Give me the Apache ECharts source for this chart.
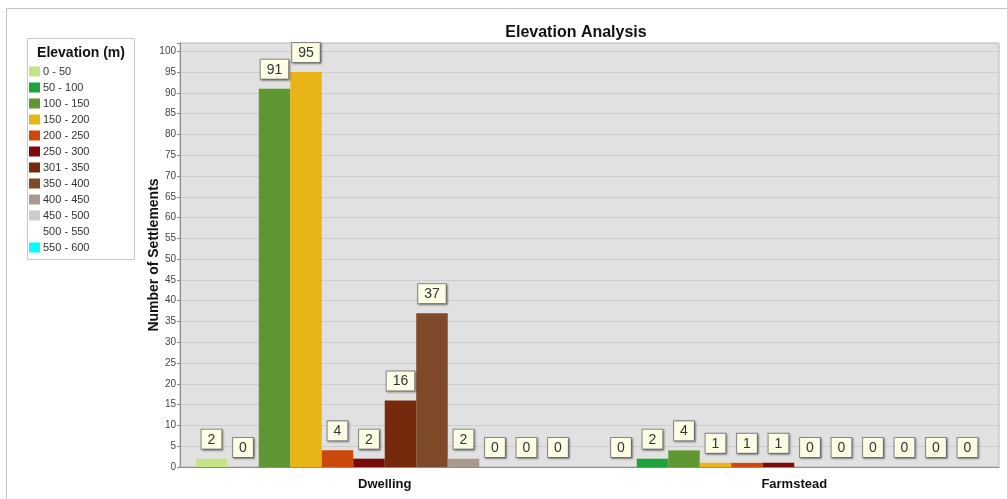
<!DOCTYPE html>
<html>
<head>
<meta charset="utf-8">
<script src="https://cdn.jsdelivr.net/npm/echarts@6/dist/echarts.min.js"></script>
<style>html,body{margin:0;padding:0;background:#fff;}#c{width:1007px;height:499px;}</style>
</head>
<body>
<div id="c"></div>
<script>
const categories = ['Dwelling', 'Farmstead'];
const elevationBands = ['0 - 50','50 - 100','100 - 150','150 - 200','200 - 250','250 - 300','301 - 350','350 - 400','400 - 450','450 - 500','500 - 550','550 - 600'];
const dwellingValues = [2, 0, 91, 95, 4, 2, 16, 37, 2, 0, 0, 0];
const farmsteadValues = [0, 2, 4, 1, 1, 1, 0, 0, 0, 0, 0, 0];
const bandColors = ['#c6e485','#21a33b','#5f9733','#e9b416','#cb4a0b','#7b0b0b','#762a0b','#7f4a29','#a89a91','#cccccc','#ffffff','#00ffff'];

const chart = echarts.init(document.getElementById('c'));
const series = elevationBands.map((name, i) => ({
  name: name,
  type: 'bar',
  barGap: '0%',
  barCategoryGap: '7.7%',
  itemStyle: { color: bandColors[i] },
  data: [dwellingValues[i], farmsteadValues[i]],
  label: {
    show: true,
    position: 'top',
    distance: 10,
    fontFamily: 'Arial, Liberation Sans, sans-serif',
    fontSize: 14,
    color: '#333',
    backgroundColor: '#fdfde6',
    borderColor: '#8a8a8a',
    borderWidth: 1,
    padding: [3, 6, 2, 6],
    shadowColor: 'rgba(0,0,0,0.35)',
    shadowOffsetX: 1,
    shadowOffsetY: 1,
    shadowBlur: 2
  }
}));

chart.setOption({
  animation: false,
  backgroundColor: '#fff',
  title: {
    text: 'Elevation Analysis',
    left: 571,
    top: 20,
    textAlign: 'center',
    textStyle: { fontFamily: 'Arial, Liberation Sans, sans-serif', fontSize: 16, fontWeight: 'bold', color: '#111' }
  },
  graphic: [
    { type: 'rect', z: -10, shape: { x: 6.5, y: 8.5, width: 1100, height: 600 }, style: { fill: 'none', stroke: '#c4c4c4', lineWidth: 1 } },
    { type: 'rect', z: -5, shape: { x: 27.5, y: 38.5, width: 107, height: 221 }, style: { fill: '#fff', stroke: '#c8c8c8', lineWidth: 1 } },
    { type: 'text', z: 10, style: { text: 'Elevation (m)', x: 81, y: 53, textAlign: 'center', textVerticalAlign: 'middle', font: 'bold 14px Arial, Liberation Sans, sans-serif', fill: '#111' } }
  ],
  legend: {
    orient: 'vertical',
    left: 29,
    top: 66,
    icon: 'rect',
    itemWidth: 11,
    itemHeight: 10,
    itemGap: 5,
    padding: 0,
    textStyle: { fontFamily: 'Arial, Liberation Sans, sans-serif', fontSize: 11, color: '#333', padding: [0, 0, 0, -2] },
    data: elevationBands
  },
  grid: {
    left: 180, right: 8, top: 43, bottom: 32,
    show: true,
    backgroundColor: '#e1e1e1',
    borderColor: '#b5b5b5',
    borderWidth: 1
  },
  xAxis: {
    type: 'category',
    data: categories,
    axisTick: { show: false },
    axisLine: { lineStyle: { color: '#8c8c8c' } },
    axisLabel: { margin: 11, fontFamily: 'Arial, Liberation Sans, sans-serif', fontSize: 13, fontWeight: 'bold', color: '#111' }
  },
  yAxis: {
    type: 'value',
    min: 0,
    max: 102,
    interval: 5,
    name: 'Number of Settlements',
    nameLocation: 'middle',
    nameRotate: 90,
    nameGap: 19,
    nameMoveOverlap: false,
    nameTextStyle: { fontFamily: 'Arial, Liberation Sans, sans-serif', fontSize: 14, fontWeight: 'bold', color: '#111' },
    axisLine: { show: true, lineStyle: { color: '#8c8c8c' } },
    axisTick: { show: true, length: 3, lineStyle: { color: '#8c8c8c' } },
    axisLabel: {
      margin: 4,
      fontFamily: 'Arial, Liberation Sans, sans-serif',
      fontSize: 10,
      color: '#444',
      formatter: v => (v % 5 === 0 ? String(v) : '')
    },
    splitLine: { lineStyle: { color: '#cdcdcd', width: 1 } }
  },
  series: series
});
</script>
</body>
</html>
